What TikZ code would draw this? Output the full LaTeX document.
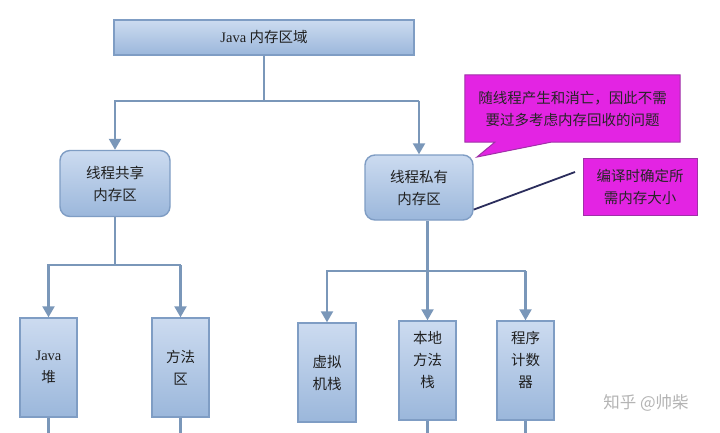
\documentclass[tikz,border=0pt]{standalone}
\usepackage{fontspec}
\setmainfont{Liberation Serif}
\newfontfamily\cjk{Noto Sans CJK SC}
\newfontfamily\jv{Liberation Serif}
\usetikzlibrary{arrows.meta,calc}
\pgfdeclarelayer{back}
\pgfdeclarelayer{bg}
\pgfsetlayers{back,bg,main}
\definecolor{boxtop}{HTML}{CCDBF0}
\definecolor{boxbot}{HTML}{9BB7DB}
\definecolor{boxline}{HTML}{7F9DC4}
\definecolor{connc}{HTML}{7A97B9}
\definecolor{mag}{HTML}{E324E3}
\definecolor{magline}{HTML}{A030A8}
\definecolor{navyc}{HTML}{2B2D5C}
\definecolor{wmc}{HTML}{B4B4B4}
\begin{document}
\begin{tikzpicture}[x=1pt,y=-1pt,
  box/.style={draw=boxline,line width=1.4pt,top color=boxtop,bottom color=boxbot,
    inner sep=0pt,align=center,font=\cjk\fontsize{14.5}{22}\selectfont,text=black!88},
  topbox/.style={box,minimum width=300pt,minimum height=35pt},
  midbox/.style={box,rounded corners=10pt,minimum width=110pt,minimum height=66pt},
  leaf/.style={box,minimum width=57pt,minimum height=99pt},
  conn/.style={draw=connc,line width=2.2pt},
  arr/.style={conn,-{Triangle[width=12pt,length=11pt]}},
  calltext/.style={inner sep=0pt,align=center,font=\cjk\fontsize{14.5}{22}\selectfont,text=black!85},
  callshape/.style={fill=mag,draw=magline,line width=1pt},
  noteline/.style={draw=navyc,line width=1.8pt}
]
\begin{pgfonlayer}{back}
\fill[white] (0,0) rectangle (720,433);
\end{pgfonlayer}
\useasboundingbox (0,0) rectangle (720,433);

% boxes
\node[topbox] (top) at (264,37.5) {{\jv Java} 内存区域};
\node[midbox] (shared) at (115,183.5) {线程共享\\内存区};
\node[midbox,minimum width=108pt,minimum height=65pt] (private) at (419,187.5) {线程私有\\内存区};
\node[leaf] (heap) at (48.5,367.5) {{\jv Java}\\堆};
\node[leaf] (method) at (180.5,367.5) {方法\\区};
\node[leaf,minimum width=58pt] (vm) at (327,372.5) {虚拟\\机栈};
\node[leaf] (native) at (427.5,370.5) {本地\\方法\\栈\\\phantom{栈}};
\node[leaf] (pc) at (525.5,370.5) {程序\\计数\\器\\\phantom{器}};

% top branch
\coordinate (tb) at (264,101);
\draw[conn] (top.south) -- (tb);
\draw[arr] (private.north |- tb) -- (shared.north |- tb) -- (shared.north);
\draw[arr] (private.north |- tb) -- (private.north);

% left branch
\coordinate (lb) at (115,265);
\draw[conn] (shared.south) -- (lb);
\draw[arr] (method.north |- lb) -- (heap.north |- lb) -- (heap.north);
\draw[arr] (method.north |- lb) -- (method.north);

% right branch
\coordinate (rb) at (427,271);
\draw[arr] (pc.north |- rb) -- (vm.north |- rb) -- (vm.north);
\draw[arr] (private.south -| native.north) -- (native.north);
\draw[arr] (pc.north |- rb) -- (pc.north);

% tails leaving the picture
\coordinate (bot) at (0,433);
\draw[conn] (heap.south) -- (heap.south |- bot);
\draw[conn] (method.south) -- (method.south |- bot);
\draw[conn] (native.south) -- (native.south |- bot);
\draw[conn] (pc.south) -- (pc.south |- bot);

% callout 1
\node[calltext,minimum width=215pt,minimum height=67pt] (c1) at (572.5,108.5)
  {随线程产生和消亡，因此不需\\要过多考虑内存回收的问题};
\coordinate (c1tip) at (477,157);
\begin{pgfonlayer}{bg}
\draw[callshape] (c1.south west) -- ($(c1.south west)+(30,0)$) -- (c1tip)
  -- ($(c1.south west)+(86,0)$) -- (c1.south east) -- (c1.north east)
  -- (c1.north west) -- cycle;
\end{pgfonlayer}

% callout 2
\node[calltext,callshape,minimum width=114pt,minimum height=57pt] (c2) at (640,186.5)
  {编译时确定所\\需内存大小};
\coordinate (c2p) at (575,172);
\draw[noteline] (c2p) -- (private.-22);

% watermark
\node[font=\cjk\fontsize{16.5}{20}\selectfont,text=wmc,inner sep=0pt] (wm) at (646,403) {知乎 @帅柴};
\end{tikzpicture}
\end{document}
